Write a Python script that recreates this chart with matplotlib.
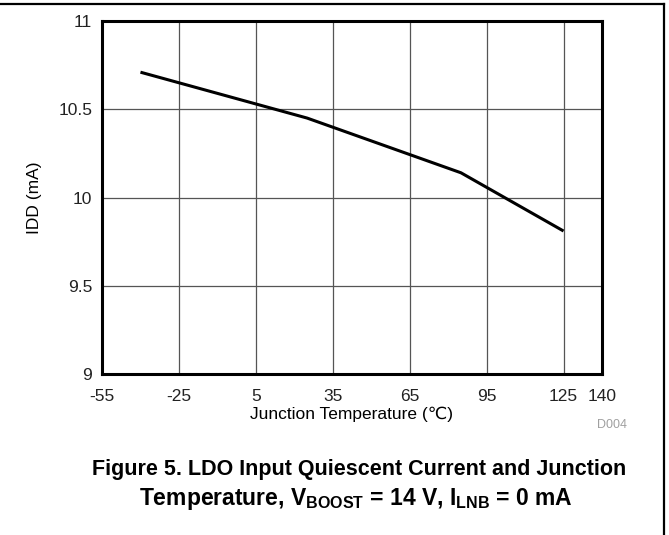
import matplotlib.pyplot as plt
from matplotlib.lines import Line2D

plt.rcParams['font.family'] = ['Liberation Sans', 'DejaVu Sans']
plt.rcParams['mathtext.fontset'] = 'custom'
plt.rcParams['mathtext.rm'] = 'Liberation Sans'
plt.rcParams['mathtext.bf'] = 'Liberation Sans:bold'
plt.rcParams['axes.unicode_minus'] = False

# values
temp_c = [-40, 25, 85, 125]
idd_ma = [10.71, 10.45, 10.14, 9.81]

x_ticks = [-55, -25, 5, 35, 65, 95, 125, 140]
y_ticks = [9, 9.5, 10, 10.5, 11]

fig = plt.figure(figsize=(6.69, 5.35), dpi=100)
ax = fig.add_axes([102 / 669, 161 / 535, 500 / 669, 353 / 535])

ax.plot(temp_c, idd_ma, color='black', lw=2.2, solid_capstyle='butt', zorder=3)

ax.set_xlim(-55, 140)
ax.set_ylim(9, 11)
ax.set_xticks(x_ticks)
ax.set_yticks(y_ticks)
ax.set_yticklabels(['9', '9.5', '10', '10.5', '11'])
ax.grid(True, color='#555555', lw=0.9)
ax.tick_params(length=0, labelsize=12.5, colors='#222222')
ax.tick_params(axis='y', pad=7)
ax.tick_params(axis='x', pad=11)
for s in ax.spines.values():
    s.set_linewidth(2.2)
    s.set_zorder(4)

ax.set_xlabel('Junction Temperature (\u2103)', fontsize=12.5, labelpad=2)
ax.set_ylabel('IDD (mA)', fontsize=12.5, labelpad=12)

fig.text(612 / 669, 1 - 425 / 535, 'D004', fontsize=9, color='#a0a0a0',
         ha='center', va='center')

fig.text(359 / 669, 1 - 470 / 535,
         'Figure 5. LDO Input Quiescent Current and Junction',
         fontsize=15.5, fontweight='bold', ha='center', va='center')
fig.text(356 / 669, 1 - 499 / 535,
         r'Temperature, V$_{\mathbf{BOOST}}$ = 14 V, I$_{\mathbf{LNB}}$ = 0 mA',
         fontsize=16.5, fontweight='bold', ha='center', va='center')

# outer frame: top and right edges only
fig.add_artist(Line2D([0, 663.5 / 669], [1 - 4 / 535, 1 - 4 / 535],
                      color='black', lw=1.6, transform=fig.transFigure))
fig.add_artist(Line2D([663.5 / 669, 663.5 / 669], [0, 1 - 4 / 535],
                      color='black', lw=1.6, transform=fig.transFigure))

fig.savefig('out.png', dpi=100)
